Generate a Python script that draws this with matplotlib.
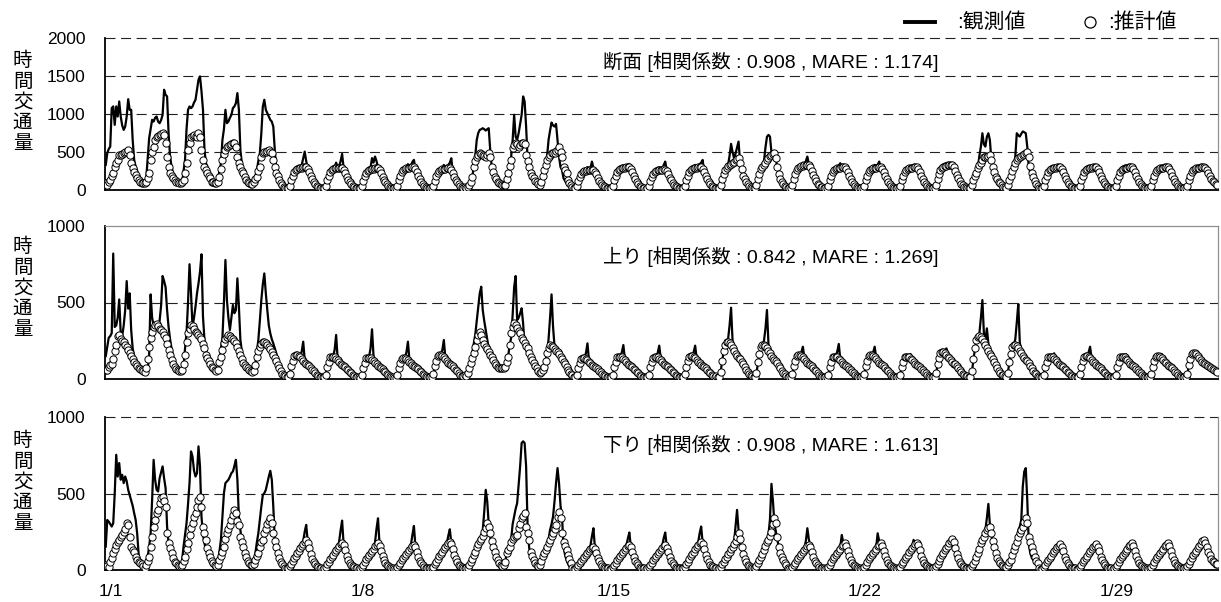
import numpy as np
import matplotlib.pyplot as plt
from matplotlib.lines import Line2D

plt.rcParams['font.family'] = ['Liberation Sans', 'Noto Sans CJK JP']

# hourly traffic, 1/1 - 1/31, one row of 24 hours per day
cross_obs = [
    [330, 484, 540, 571, 1077, 1100, 857, 1100, 967, 1165, 967, 850, 791, 835, 967, 1195, 1055, 1055, 659, 396, 308, 250, 180, 132],
    [100, 88, 85, 132, 400, 681, 800, 923, 901, 950, 967, 900, 879, 920, 989, 1319, 1253, 1231, 747, 440, 308, 220, 160, 110],
    [110, 95, 88, 88, 250, 396, 800, 1055, 1099, 1077, 1099, 1150, 1187, 1319, 1451, 1495, 1300, 1055, 527, 350, 308, 230, 176, 130],
    [100, 90, 88, 150, 250, 352, 659, 800, 1055, 879, 901, 950, 989, 1077, 1100, 1143, 1275, 1055, 527, 350, 264, 200, 154, 110],
    [90, 80, 85, 110, 180, 264, 380, 484, 747, 1099, 1187, 1055, 1011, 967, 923, 900, 835, 527, 264, 180, 132, 90, 60, 40],
    [30, 22, 21, 55, 125, 185, 240, 262, 280, 300, 310, 330, 420, 505, 380, 280, 225, 176, 137, 104, 75, 55, 40, 30],
    [26, 20, 21, 55, 123, 182, 236, 258, 276, 300, 360, 300, 310, 380, 475, 290, 220, 172, 135, 102, 74, 54, 39, 30],
    [26, 19, 20, 52, 118, 176, 228, 250, 265, 290, 420, 360, 440, 380, 300, 260, 215, 168, 131, 99, 72, 53, 38, 29],
    [26, 20, 21, 55, 125, 185, 240, 262, 280, 300, 340, 300, 320, 370, 396, 280, 225, 176, 137, 104, 75, 55, 40, 30],
    [26, 19, 20, 52, 118, 176, 228, 250, 265, 285, 330, 290, 300, 330, 360, 418, 220, 170, 131, 99, 72, 53, 38, 30],
    [38, 28, 33, 58, 105, 170, 300, 450, 659, 750, 791, 800, 813, 800, 782, 800, 813, 527, 308, 230, 176, 140, 110, 88],
    [72, 62, 60, 64, 135, 215, 315, 440, 659, 989, 700, 659, 747, 870, 989, 1231, 1165, 835, 396, 300, 220, 160, 110, 90],
    [95, 75, 65, 105, 175, 260, 330, 440, 659, 780, 888, 850, 835, 870, 659, 440, 300, 264, 154, 120, 88, 70, 55, 45],
    [40, 25, 19, 50, 112, 166, 214, 234, 248, 260, 300, 270, 290, 374, 290, 242, 205, 160, 125, 95, 69, 51, 37, 28],
    [26, 20, 21, 55, 125, 185, 240, 262, 280, 300, 320, 300, 310, 330, 343, 275, 225, 176, 137, 104, 75, 55, 40, 30],
    [25, 19, 20, 51, 116, 168, 217, 236, 250, 262, 300, 268, 280, 330, 374, 250, 208, 162, 126, 96, 70, 51, 37, 28],
    [26, 20, 21, 55, 125, 185, 240, 262, 280, 300, 330, 300, 310, 340, 360, 396, 230, 176, 137, 104, 75, 55, 40, 30],
    [28, 20, 22, 58, 135, 200, 260, 290, 330, 450, 607, 500, 420, 480, 560, 637, 380, 260, 185, 135, 98, 72, 52, 38],
    [28, 22, 24, 58, 135, 205, 265, 300, 380, 560, 700, 725, 703, 500, 470, 450, 400, 290, 200, 145, 100, 75, 53, 38],
    [28, 22, 23, 60, 140, 205, 265, 290, 310, 330, 360, 340, 380, 440, 340, 300, 250, 195, 150, 115, 83, 61, 44, 33],
    [26, 20, 21, 55, 125, 185, 240, 262, 280, 300, 320, 352, 310, 320, 300, 270, 225, 176, 137, 104, 75, 55, 40, 30],
    [26, 20, 21, 55, 125, 185, 240, 262, 280, 300, 330, 300, 330, 374, 310, 270, 225, 176, 137, 104, 75, 55, 40, 30],
    [26, 20, 21, 55, 125, 185, 240, 262, 280, 295, 305, 300, 316, 305, 300, 270, 225, 176, 137, 104, 75, 55, 40, 30],
    [28, 22, 23, 60, 140, 205, 265, 290, 305, 315, 320, 325, 328, 325, 328, 330, 250, 195, 150, 115, 83, 61, 44, 33],
    [28, 22, 24, 58, 125, 175, 215, 300, 450, 571, 747, 600, 571, 700, 747, 659, 400, 300, 230, 170, 135, 105, 85, 55],
    [43, 33, 30, 58, 125, 185, 245, 300, 440, 747, 720, 703, 740, 770, 760, 747, 571, 308, 230, 170, 120, 85, 55, 40],
    [28, 20, 21, 55, 125, 185, 240, 262, 280, 295, 308, 300, 300, 305, 300, 272, 231, 180, 140, 106, 77, 57, 41, 32],
    [28, 21, 22, 57, 129, 187, 241, 262, 278, 290, 305, 298, 300, 308, 299, 272, 231, 180, 140, 106, 77, 57, 41, 32],
    [28, 21, 22, 57, 129, 187, 241, 262, 278, 288, 300, 296, 299, 302, 299, 272, 231, 180, 140, 106, 77, 57, 41, 32],
    [28, 21, 22, 57, 129, 187, 241, 262, 278, 290, 300, 298, 304, 300, 296, 270, 230, 180, 140, 106, 77, 57, 41, 32],
    [28, 21, 22, 57, 129, 187, 241, 262, 278, 288, 300, 296, 310, 330, 315, 290, 250, 200, 160, 130, 110, 95, 80, 70],
]
cross_est = [
    [88, 66, 100, 132, 180, 220, 308, 360, 396, 462, 462, 470, 484, 495, 505, 527, 462, 352, 286, 242, 198, 154, 132, 110],
    [97, 90, 95, 110, 160, 220, 396, 500, 571, 659, 700, 710, 725, 740, 747, 725, 615, 440, 308, 220, 190, 160, 132, 110],
    [100, 90, 92, 110, 132, 220, 352, 527, 620, 703, 715, 725, 715, 703, 747, 703, 527, 396, 308, 260, 220, 180, 154, 110],
    [100, 90, 88, 110, 176, 280, 396, 470, 527, 571, 580, 593, 610, 615, 624, 571, 440, 360, 308, 250, 220, 170, 132, 100],
    [90, 80, 75, 100, 140, 176, 250, 308, 440, 484, 495, 505, 515, 527, 505, 484, 396, 308, 220, 180, 132, 90, 60, 40],
    [30, 21, 22, 57, 129, 187, 241, 262, 278, 288, 292, 296, 299, 300, 299, 272, 231, 180, 140, 106, 77, 57, 41, 32],
    [28, 21, 22, 56, 127, 184, 237, 258, 273, 283, 287, 291, 294, 295, 294, 268, 227, 177, 138, 104, 76, 56, 40, 31],
    [27, 20, 21, 54, 123, 178, 229, 249, 264, 274, 277, 281, 284, 285, 284, 258, 219, 171, 133, 101, 73, 54, 39, 30],
    [28, 21, 22, 57, 129, 187, 241, 262, 278, 288, 292, 296, 299, 300, 299, 272, 231, 180, 140, 106, 77, 57, 41, 32],
    [27, 20, 21, 54, 123, 178, 229, 249, 264, 274, 277, 281, 284, 285, 284, 258, 219, 171, 133, 101, 73, 54, 39, 30],
    [40, 30, 35, 60, 110, 176, 308, 380, 440, 465, 484, 475, 462, 450, 440, 460, 484, 440, 308, 240, 176, 140, 110, 90],
    [75, 65, 62, 66, 140, 220, 320, 396, 549, 590, 615, 600, 571, 593, 624, 615, 607, 462, 380, 308, 220, 190, 154, 120],
    [100, 80, 70, 110, 180, 264, 330, 396, 440, 462, 484, 488, 492, 510, 527, 571, 500, 440, 308, 260, 220, 130, 90, 60],
    [40, 25, 20, 50, 114, 165, 213, 231, 246, 254, 258, 262, 264, 265, 264, 240, 204, 159, 124, 94, 68, 50, 36, 28],
    [28, 21, 22, 57, 129, 187, 241, 262, 278, 288, 292, 296, 299, 300, 299, 272, 231, 180, 140, 106, 77, 57, 41, 32],
    [26, 19, 20, 51, 116, 168, 217, 236, 250, 259, 263, 266, 269, 270, 269, 245, 208, 162, 126, 95, 69, 51, 37, 29],
    [28, 21, 22, 57, 129, 187, 241, 262, 278, 288, 292, 296, 299, 300, 299, 272, 231, 180, 140, 106, 77, 57, 41, 32],
    [30, 22, 24, 60, 140, 205, 265, 290, 310, 330, 345, 360, 375, 390, 405, 418, 360, 270, 190, 140, 100, 75, 55, 40],
    [30, 24, 26, 60, 140, 210, 270, 300, 330, 360, 390, 420, 445, 460, 475, 490, 420, 300, 210, 150, 105, 78, 56, 40],
    [31, 23, 24, 63, 142, 206, 265, 288, 306, 317, 321, 326, 329, 330, 329, 299, 254, 198, 154, 117, 85, 63, 45, 35],
    [28, 21, 22, 57, 129, 187, 241, 262, 278, 288, 292, 296, 299, 300, 299, 272, 231, 180, 140, 106, 77, 57, 41, 32],
    [28, 21, 22, 57, 129, 187, 241, 262, 278, 288, 292, 296, 299, 300, 299, 272, 231, 180, 140, 106, 77, 57, 41, 32],
    [28, 21, 22, 57, 129, 187, 241, 262, 278, 288, 292, 296, 299, 300, 299, 272, 231, 180, 140, 106, 77, 57, 41, 32],
    [31, 23, 24, 63, 142, 206, 265, 288, 306, 317, 321, 326, 329, 330, 329, 299, 254, 198, 154, 117, 85, 63, 45, 35],
    [30, 24, 26, 60, 130, 180, 220, 290, 330, 352, 400, 440, 440, 440, 450, 460, 400, 308, 240, 176, 140, 110, 88, 60],
    [45, 35, 32, 60, 130, 190, 250, 300, 360, 400, 420, 440, 450, 460, 470, 490, 505, 440, 320, 230, 170, 120, 85, 55],
    [28, 21, 22, 57, 129, 187, 241, 262, 278, 288, 292, 296, 299, 300, 299, 272, 231, 180, 140, 106, 77, 57, 41, 32],
    [28, 21, 22, 57, 129, 187, 241, 262, 278, 288, 292, 296, 299, 300, 299, 272, 231, 180, 140, 106, 77, 57, 41, 32],
    [28, 21, 22, 57, 129, 187, 241, 262, 278, 288, 292, 296, 299, 300, 299, 272, 231, 180, 140, 106, 77, 57, 41, 32],
    [28, 21, 22, 57, 129, 187, 241, 262, 278, 288, 292, 296, 299, 300, 299, 272, 231, 180, 140, 106, 77, 57, 41, 32],
    [28, 21, 22, 57, 129, 187, 241, 262, 278, 288, 292, 296, 299, 300, 299, 285, 260, 220, 180, 150, 120, 100, 85, 72],
]
up_obs = [
    [150, 210, 270, 280, 300, 820, 340, 350, 400, 520, 300, 280, 350, 450, 640, 460, 560, 320, 200, 150, 110, 90, 70, 60],
    [55, 45, 40, 40, 60, 150, 553, 400, 350, 340, 340, 360, 380, 480, 673, 640, 600, 450, 340, 260, 200, 150, 100, 80],
    [65, 55, 50, 45, 80, 200, 300, 500, 750, 560, 342, 400, 473, 560, 625, 700, 815, 407, 255, 190, 150, 124, 100, 80],
    [70, 55, 48, 45, 100, 200, 270, 500, 778, 516, 400, 320, 400, 484, 430, 450, 658, 473, 255, 180, 130, 102, 85, 65],
    [60, 55, 50, 55, 100, 180, 255, 380, 516, 620, 690, 560, 450, 350, 298, 260, 233, 200, 168, 130, 100, 70, 45, 30],
    [20, 12, 10, 30, 78, 118, 150, 157, 157, 152, 145, 180, 244, 125, 100, 90, 82, 72, 60, 48, 37, 27, 19, 14],
    [12, 9, 9, 27, 73, 110, 140, 146, 150, 190, 288, 135, 112, 100, 90, 83, 76, 66, 56, 45, 34, 25, 18, 13],
    [12, 9, 9, 26, 70, 105, 133, 139, 145, 200, 325, 150, 108, 96, 86, 79, 72, 63, 53, 43, 33, 24, 17, 12],
    [11, 8, 8, 25, 68, 102, 130, 135, 140, 175, 244, 125, 104, 93, 84, 77, 70, 61, 52, 42, 32, 24, 17, 12],
    [12, 9, 9, 29, 78, 117, 148, 157, 160, 190, 255, 140, 120, 107, 97, 89, 82, 71, 60, 48, 37, 27, 19, 14],
    [25, 18, 20, 40, 100, 170, 230, 290, 380, 470, 560, 603, 451, 380, 320, 260, 200, 160, 140, 110, 95, 80, 70, 60],
    [65, 60, 65, 75, 110, 150, 220, 270, 420, 600, 673, 386, 400, 429, 462, 364, 211, 190, 165, 140, 115, 95, 80, 65],
    [65, 50, 38, 40, 60, 80, 120, 168, 260, 400, 553, 342, 211, 200, 179, 160, 146, 130, 113, 95, 81, 60, 48, 35],
    [25, 15, 9, 25, 68, 102, 130, 135, 140, 170, 233, 125, 104, 93, 84, 77, 70, 61, 52, 42, 32, 24, 17, 12],
    [10, 8, 8, 27, 73, 110, 140, 146, 150, 175, 222, 132, 112, 100, 90, 83, 76, 66, 56, 45, 34, 25, 18, 13],
    [10, 8, 8, 27, 73, 110, 140, 146, 150, 172, 218, 132, 112, 100, 90, 83, 76, 66, 56, 45, 34, 25, 18, 13],
    [10, 8, 8, 28, 75, 112, 142, 150, 155, 175, 218, 135, 115, 102, 92, 85, 78, 68, 57, 46, 35, 26, 18, 13],
    [18, 14, 14, 42, 115, 175, 220, 240, 260, 350, 466, 250, 190, 166, 150, 138, 128, 112, 94, 76, 58, 43, 31, 22],
    [20, 14, 14, 40, 105, 160, 205, 220, 250, 330, 451, 230, 175, 152, 137, 126, 116, 102, 85, 70, 54, 40, 28, 20],
    [14, 10, 9, 29, 78, 117, 148, 157, 160, 175, 211, 140, 120, 107, 97, 89, 82, 71, 60, 48, 37, 27, 19, 14],
    [10, 8, 8, 27, 73, 110, 140, 146, 150, 180, 229, 132, 112, 100, 90, 83, 76, 66, 56, 45, 34, 25, 18, 13],
    [10, 8, 9, 29, 78, 117, 148, 157, 160, 175, 211, 140, 120, 107, 97, 89, 82, 71, 60, 48, 37, 27, 19, 14],
    [10, 8, 8, 27, 73, 110, 140, 146, 150, 155, 163, 132, 112, 100, 90, 83, 76, 66, 56, 45, 34, 25, 18, 13],
    [10, 8, 9, 33, 89, 133, 168, 178, 180, 190, 200, 160, 137, 121, 109, 100, 93, 81, 68, 55, 42, 31, 22, 17],
    [18, 14, 15, 45, 125, 195, 250, 270, 300, 400, 516, 300, 255, 331, 233, 170, 148, 130, 110, 90, 70, 52, 38, 26],
    [20, 14, 14, 40, 105, 160, 205, 220, 260, 370, 490, 240, 180, 152, 137, 126, 116, 102, 85, 70, 54, 40, 28, 20],
    [12, 8, 8, 27, 73, 110, 140, 146, 150, 158, 168, 132, 112, 100, 90, 83, 76, 66, 56, 45, 34, 25, 18, 13],
    [10, 8, 8, 28, 75, 112, 142, 150, 155, 175, 211, 135, 115, 102, 92, 85, 78, 68, 57, 46, 35, 26, 18, 13],
    [10, 8, 8, 27, 73, 110, 140, 146, 152, 158, 163, 130, 112, 100, 90, 83, 76, 66, 56, 45, 34, 25, 18, 13],
    [10, 8, 8, 28, 75, 112, 142, 150, 155, 160, 163, 133, 115, 102, 92, 85, 78, 68, 57, 46, 35, 26, 18, 13],
    [10, 8, 9, 31, 84, 126, 159, 168, 170, 175, 178, 150, 129, 114, 103, 95, 87, 80, 75, 70, 62, 55, 50, 45],
]
up_est = [
    [60, 60, 80, 90, 100, 130, 180, 220, 280, 290, 260, 250, 240, 225, 210, 190, 170, 150, 130, 110, 95, 85, 75, 65],
    [60, 50, 45, 70, 130, 210, 270, 310, 340, 355, 360, 345, 330, 320, 310, 290, 270, 230, 190, 160, 125, 100, 80, 65],
    [60, 55, 50, 60, 100, 157, 240, 300, 330, 350, 345, 330, 310, 300, 288, 277, 260, 230, 200, 160, 140, 115, 100, 80],
    [70, 60, 55, 60, 110, 146, 190, 233, 260, 277, 288, 280, 270, 260, 250, 235, 211, 185, 157, 130, 102, 90, 78, 70],
    [60, 50, 45, 50, 90, 146, 180, 211, 230, 240, 244, 235, 220, 211, 195, 179, 160, 135, 115, 92, 70, 50, 35, 25],
    [20, 14, 11, 32, 84, 120, 152, 157, 157, 152, 142, 130, 118, 107, 96, 89, 84, 73, 62, 50, 39, 29, 21, 16],
    [14, 10, 10, 29, 78, 112, 141, 146, 146, 141, 131, 121, 110, 99, 90, 83, 78, 68, 57, 47, 36, 27, 19, 15],
    [14, 10, 9, 28, 74, 107, 134, 139, 139, 134, 125, 115, 105, 95, 85, 79, 74, 65, 55, 45, 34, 26, 19, 14],
    [13, 9, 9, 27, 72, 104, 131, 135, 135, 131, 122, 112, 102, 92, 83, 77, 72, 63, 53, 43, 33, 25, 18, 14],
    [14, 10, 10, 31, 84, 120, 152, 157, 157, 152, 141, 130, 118, 107, 96, 89, 84, 73, 62, 50, 39, 29, 21, 20],
    [25, 20, 37, 70, 102, 140, 168, 210, 255, 290, 309, 290, 255, 230, 211, 195, 179, 160, 146, 125, 102, 90, 81, 75],
    [70, 70, 72, 81, 110, 146, 220, 298, 342, 368, 350, 331, 315, 298, 270, 255, 233, 215, 200, 170, 146, 125, 102, 85],
    [70, 55, 40, 45, 62, 81, 120, 168, 200, 222, 218, 211, 195, 185, 179, 162, 146, 130, 113, 97, 81, 62, 48, 35],
    [25, 15, 10, 27, 72, 104, 131, 135, 135, 131, 122, 112, 102, 92, 83, 77, 72, 63, 53, 43, 33, 25, 18, 14],
    [14, 10, 10, 29, 78, 112, 141, 146, 146, 141, 131, 121, 110, 99, 90, 83, 78, 68, 57, 47, 36, 27, 19, 15],
    [14, 10, 10, 29, 77, 112, 140, 146, 146, 142, 132, 121, 110, 100, 90, 83, 77, 68, 57, 47, 36, 27, 19, 15],
    [14, 10, 10, 30, 80, 115, 145, 150, 150, 145, 135, 124, 113, 102, 92, 85, 80, 70, 59, 48, 37, 28, 20, 15],
    [20, 16, 16, 45, 120, 180, 225, 244, 244, 236, 220, 200, 184, 166, 150, 138, 130, 114, 96, 78, 60, 45, 33, 24],
    [22, 15, 15, 42, 110, 165, 210, 222, 222, 215, 200, 184, 168, 152, 137, 126, 118, 104, 87, 71, 55, 41, 30, 22],
    [15, 11, 11, 32, 84, 120, 152, 157, 157, 152, 142, 130, 118, 107, 96, 89, 84, 73, 62, 50, 39, 29, 21, 16],
    [14, 10, 10, 29, 78, 112, 141, 146, 146, 141, 131, 121, 110, 99, 90, 83, 78, 68, 57, 47, 36, 27, 19, 15],
    [15, 11, 11, 32, 84, 120, 152, 157, 157, 152, 142, 130, 118, 107, 96, 89, 84, 73, 62, 50, 39, 29, 21, 16],
    [14, 10, 10, 29, 77, 112, 141, 146, 146, 141, 131, 121, 110, 99, 90, 83, 78, 68, 57, 47, 36, 27, 19, 15],
    [15, 11, 12, 36, 95, 136, 172, 178, 178, 172, 160, 147, 134, 121, 109, 101, 95, 83, 70, 57, 44, 33, 24, 18],
    [20, 15, 16, 50, 130, 200, 255, 275, 281, 275, 262, 240, 220, 200, 180, 165, 150, 132, 112, 92, 72, 54, 40, 28],
    [25, 18, 15, 42, 110, 165, 210, 222, 222, 215, 200, 184, 168, 152, 137, 126, 118, 104, 87, 71, 55, 41, 30, 22],
    [14, 10, 10, 29, 78, 112, 141, 146, 146, 141, 131, 121, 110, 99, 90, 83, 78, 68, 57, 47, 36, 27, 19, 15],
    [14, 10, 10, 30, 80, 115, 145, 150, 150, 145, 135, 124, 113, 102, 92, 85, 80, 70, 59, 48, 37, 28, 20, 15],
    [14, 10, 10, 29, 78, 112, 141, 146, 146, 141, 131, 121, 110, 99, 90, 83, 78, 68, 57, 47, 36, 27, 19, 15],
    [14, 10, 10, 30, 80, 115, 145, 150, 150, 145, 135, 124, 113, 102, 92, 85, 80, 70, 59, 48, 37, 28, 20, 15],
    [15, 11, 11, 34, 90, 129, 162, 168, 168, 162, 151, 139, 127, 114, 103, 95, 90, 85, 81, 75, 66, 58, 52, 48],
]
down_obs = [
    [153, 327, 316, 300, 284, 306, 500, 753, 611, 699, 590, 622, 568, 611, 580, 524, 490, 458, 420, 371, 327, 240, 100, 44],
    [40, 30, 22, 40, 87, 150, 240, 458, 720, 590, 524, 513, 600, 640, 677, 600, 535, 284, 175, 120, 87, 65, 50, 40],
    [40, 30, 22, 60, 153, 230, 306, 430, 568, 775, 742, 650, 611, 633, 808, 677, 349, 230, 175, 130, 109, 70, 44, 35],
    [35, 22, 20, 50, 120, 200, 350, 502, 568, 579, 590, 610, 633, 644, 680, 720, 590, 349, 260, 175, 130, 87, 55, 33],
    [40, 33, 30, 60, 109, 180, 240, 330, 415, 491, 502, 524, 568, 610, 648, 590, 415, 197, 109, 75, 55, 44, 30, 22],
    [12, 9, 10, 22, 37, 56, 76, 92, 108, 123, 139, 157, 190, 250, 295, 185, 134, 98, 72, 50, 34, 24, 18, 14],
    [11, 8, 9, 20, 34, 51, 70, 84, 98, 113, 127, 143, 185, 260, 323, 170, 123, 90, 66, 46, 31, 22, 16, 12],
    [11, 8, 9, 20, 33, 50, 68, 82, 96, 110, 124, 140, 180, 270, 338, 168, 120, 88, 64, 45, 30, 21, 16, 12],
    [10, 8, 9, 19, 31, 47, 64, 77, 90, 103, 116, 131, 165, 230, 288, 155, 113, 82, 60, 42, 28, 20, 15, 12],
    [12, 9, 10, 21, 35, 53, 72, 87, 102, 117, 132, 149, 175, 225, 266, 175, 128, 94, 68, 48, 32, 22, 17, 13],
    [14, 10, 14, 28, 48, 68, 92, 118, 150, 175, 200, 215, 260, 380, 524, 450, 300, 220, 170, 140, 110, 80, 60, 40],
    [33, 25, 28, 50, 105, 130, 150, 200, 300, 349, 400, 437, 560, 677, 830, 841, 830, 677, 284, 150, 87, 60, 45, 33],
    [33, 24, 30, 55, 85, 105, 125, 150, 200, 262, 300, 349, 450, 568, 666, 568, 420, 349, 153, 100, 65, 40, 22, 18],
    [10, 7, 8, 17, 29, 44, 59, 71, 84, 96, 108, 122, 160, 220, 273, 145, 105, 77, 56, 39, 26, 18, 14, 11],
    [10, 8, 9, 19, 31, 47, 64, 77, 90, 103, 116, 131, 160, 205, 245, 152, 113, 82, 60, 42, 28, 20, 15, 12],
    [10, 8, 9, 19, 32, 46, 64, 78, 90, 102, 116, 130, 158, 210, 245, 150, 114, 83, 59, 42, 28, 20, 15, 12],
    [12, 9, 10, 21, 35, 53, 72, 87, 102, 117, 132, 149, 180, 240, 284, 178, 128, 94, 68, 48, 32, 22, 17, 13],
    [11, 8, 10, 20, 36, 52, 70, 86, 102, 118, 132, 150, 180, 290, 393, 260, 180, 140, 100, 70, 48, 33, 24, 17],
    [14, 10, 13, 26, 42, 62, 82, 102, 130, 175, 200, 230, 330, 563, 450, 300, 250, 197, 140, 105, 80, 60, 42, 28],
    [10, 8, 9, 19, 31, 47, 64, 78, 91, 104, 117, 140, 190, 273, 200, 150, 113, 82, 60, 42, 28, 20, 15, 12],
    [11, 8, 9, 20, 33, 50, 68, 82, 96, 110, 124, 150, 229, 180, 170, 155, 120, 88, 64, 45, 30, 21, 16, 12],
    [11, 8, 9, 20, 33, 50, 68, 82, 96, 110, 124, 150, 240, 190, 172, 155, 120, 88, 64, 45, 30, 21, 16, 12],
    [11, 8, 9, 20, 34, 51, 70, 84, 98, 113, 127, 150, 197, 172, 170, 155, 123, 90, 66, 46, 31, 22, 16, 12],
    [13, 9, 10, 23, 38, 58, 78, 94, 110, 126, 142, 160, 185, 207, 195, 175, 138, 100, 73, 52, 35, 24, 18, 14],
    [13, 9, 11, 24, 40, 60, 82, 108, 140, 175, 195, 220, 260, 340, 432, 300, 230, 180, 140, 100, 70, 55, 40, 28],
    [24, 17, 19, 33, 48, 62, 95, 128, 160, 200, 260, 284, 327, 546, 644, 666, 458, 175, 110, 80, 65, 50, 38, 30],
    [11, 8, 9, 19, 32, 48, 65, 79, 92, 106, 119, 134, 160, 175, 165, 148, 116, 84, 61, 43, 29, 21, 15, 12],
    [11, 8, 9, 19, 32, 48, 65, 79, 92, 106, 119, 134, 158, 179, 166, 150, 117, 85, 62, 44, 30, 21, 15, 12],
    [12, 9, 10, 21, 33, 50, 68, 82, 96, 110, 124, 140, 165, 186, 172, 155, 122, 88, 64, 45, 30, 21, 16, 12],
    [12, 9, 10, 21, 33, 50, 68, 82, 96, 110, 124, 140, 166, 186, 173, 156, 122, 88, 64, 45, 30, 21, 16, 12],
    [13, 10, 11, 24, 40, 59, 79, 95, 110, 126, 142, 160, 180, 201, 190, 175, 140, 110, 95, 70, 55, 45, 40, 37],
]
down_est = [
    [33, 25, 22, 50, 80, 110, 140, 165, 180, 197, 215, 229, 250, 270, 306, 295, 218, 153, 130, 120, 87, 65, 52, 44],
    [40, 25, 15, 33, 60, 87, 153, 218, 280, 327, 371, 393, 437, 469, 480, 450, 415, 240, 175, 142, 109, 76, 55, 44],
    [35, 25, 25, 33, 60, 87, 140, 175, 230, 273, 310, 345, 375, 410, 458, 480, 415, 284, 240, 197, 142, 110, 87, 60],
    [45, 30, 25, 35, 65, 90, 120, 150, 200, 240, 270, 295, 330, 360, 393, 371, 320, 295, 218, 180, 153, 110, 87, 60],
    [44, 35, 30, 40, 65, 90, 109, 153, 180, 197, 240, 270, 300, 320, 338, 306, 240, 190, 153, 109, 80, 55, 40, 25],
    [16, 12, 11, 24, 39, 58, 78, 94, 110, 125, 141, 157, 172, 186, 196, 177, 141, 102, 74, 53, 36, 26, 19, 16],
    [12, 9, 10, 21, 36, 53, 72, 86, 100, 115, 129, 143, 158, 170, 179, 162, 129, 93, 68, 48, 33, 24, 17, 14],
    [12, 9, 10, 21, 35, 52, 70, 84, 98, 112, 126, 140, 154, 166, 175, 158, 126, 91, 66, 47, 32, 23, 17, 14],
    [11, 8, 9, 20, 33, 49, 66, 79, 92, 105, 118, 131, 144, 156, 164, 148, 118, 85, 62, 44, 30, 22, 16, 13],
    [13, 10, 11, 22, 37, 55, 74, 89, 104, 119, 134, 149, 164, 177, 186, 168, 134, 97, 70, 50, 34, 24, 18, 15],
    [15, 12, 15, 30, 50, 70, 95, 120, 150, 170, 190, 205, 225, 251, 273, 306, 280, 240, 190, 153, 120, 87, 65, 44],
    [35, 25, 30, 50, 109, 130, 153, 180, 200, 218, 225, 229, 273, 300, 338, 355, 371, 284, 240, 197, 120, 90, 65, 45],
    [33, 25, 35, 60, 90, 109, 130, 153, 175, 197, 220, 240, 270, 295, 349, 382, 338, 240, 186, 160, 131, 100, 70, 44],
    [10, 8, 9, 18, 31, 45, 61, 73, 86, 98, 110, 122, 135, 145, 153, 138, 110, 80, 58, 41, 28, 20, 15, 12],
    [11, 8, 9, 20, 33, 49, 66, 79, 92, 105, 118, 131, 144, 156, 164, 148, 118, 85, 62, 44, 30, 22, 16, 13],
    [11, 8, 10, 20, 33, 48, 66, 80, 92, 104, 118, 130, 145, 155, 164, 147, 119, 86, 61, 44, 30, 21, 16, 13],
    [13, 10, 11, 22, 37, 55, 74, 89, 104, 119, 134, 149, 164, 177, 186, 168, 134, 97, 70, 50, 34, 24, 18, 15],
    [12, 9, 11, 22, 38, 55, 72, 88, 104, 120, 135, 150, 168, 190, 215, 240, 200, 150, 105, 72, 50, 35, 25, 18],
    [15, 12, 14, 28, 45, 65, 85, 105, 130, 160, 180, 197, 220, 251, 300, 338, 306, 218, 150, 109, 85, 65, 45, 30],
    [11, 9, 9, 20, 33, 49, 66, 80, 93, 106, 119, 132, 145, 157, 164, 150, 118, 85, 62, 44, 30, 22, 16, 13],
    [12, 9, 10, 21, 35, 52, 70, 84, 98, 112, 126, 140, 154, 166, 175, 158, 126, 91, 66, 47, 32, 23, 17, 14],
    [12, 9, 10, 21, 35, 52, 70, 84, 98, 112, 126, 140, 154, 166, 175, 158, 126, 91, 66, 47, 32, 23, 17, 14],
    [12, 9, 10, 21, 36, 53, 72, 86, 100, 115, 129, 143, 158, 170, 179, 162, 129, 93, 68, 48, 33, 24, 17, 14],
    [14, 10, 11, 24, 40, 60, 80, 96, 112, 128, 144, 160, 176, 190, 201, 181, 144, 104, 76, 54, 37, 26, 20, 16],
    [14, 10, 12, 25, 42, 62, 85, 110, 140, 175, 195, 218, 240, 262, 275, 284, 240, 190, 153, 110, 76, 60, 44, 30],
    [25, 18, 20, 35, 50, 65, 100, 131, 160, 186, 215, 240, 262, 284, 316, 338, 306, 218, 185, 153, 120, 87, 60, 44],
    [11, 9, 9, 20, 34, 50, 67, 81, 94, 108, 121, 134, 148, 160, 168, 151, 121, 87, 63, 45, 31, 22, 16, 13],
    [11, 9, 9, 20, 34, 50, 67, 81, 94, 108, 121, 134, 148, 160, 168, 151, 121, 87, 63, 45, 31, 22, 16, 13],
    [12, 9, 10, 21, 35, 52, 70, 84, 98, 112, 126, 140, 154, 166, 175, 158, 126, 91, 66, 47, 32, 23, 17, 14],
    [12, 9, 10, 21, 35, 52, 70, 84, 98, 112, 126, 140, 154, 166, 175, 158, 126, 91, 66, 47, 32, 23, 17, 14],
    [13, 10, 11, 24, 40, 59, 79, 95, 110, 126, 142, 157, 173, 187, 197, 178, 150, 120, 98, 75, 60, 50, 42, 37],
]

panel_notes = ["断面 [相関係数 : 0.908 , MARE : 1.174]",
               "上り [相関係数 : 0.842 , MARE : 1.269]",
               "下り [相関係数 : 0.908 , MARE : 1.613]"]
panel_ymax = [2000, 1000, 1000]
date_labels = ["1/1", "1/8", "1/15", "1/22", "1/29"]

W, H = 1221, 602
fig = plt.figure(figsize=(W / 100, H / 100), dpi=100)

# axes boxes in pixels: top, bottom
boxes = [(38, 190), (226, 379), (417, 570)]
series = [(cross_obs, cross_est), (up_obs, up_est), (down_obs, down_est)]
note_y = [62, 257, 445]
label_y = [102, 288, 482]
dash_top = [True, False, True]

for i in range(3):
    top, bot = boxes[i]
    ax = fig.add_axes([105 / W, 1 - bot / H, 1113 / W, (bot - top) / H])
    obs = np.array(series[i][0], dtype=float).ravel()
    est = np.array(series[i][1], dtype=float).ravel()
    x = np.arange(len(obs))

    ax.plot(x, obs, color='black', lw=1.6, zorder=3)
    ax.plot(x, est, ls='none', marker='o', ms=5.2, mfc='white', mec='black', mew=0.7, zorder=4)

    ymax = panel_ymax[i]
    ax.set_xlim(-0.5, len(obs) - 0.5)
    ax.set_ylim(0, ymax)
    ticks = list(range(0, ymax + 1, 500))
    ax.set_yticks(ticks)
    ax.set_yticklabels([str(t) for t in ticks], fontsize=12.5)
    for t in ticks[1:]:
        if t == ymax and not dash_top[i]:
            continue
        ax.axhline(t, color='#222222', lw=0.8, dashes=(9, 5), zorder=1, clip_on=False)

    for s in ['left', 'bottom']:
        ax.spines[s].set_color('black')
        ax.spines[s].set_linewidth(1.3)
    for s in ['top', 'right']:
        ax.spines[s].set_color('#909090')
        ax.spines[s].set_linewidth(0.9)
    if dash_top[i]:
        ax.spines['top'].set_visible(False)

    ax.tick_params(axis='both', length=0)
    ax.tick_params(axis='y', pad=14)
    if i == 2:
        ax.set_xticks([3.5 + 168 * k for k in range(len(date_labels))])
        ax.set_xticklabels(date_labels, fontsize=12.5)
        ax.tick_params(axis='x', pad=10)
    else:
        ax.set_xticks([])

    fig.text(771 / W, 1 - note_y[i] / H, panel_notes[i], ha='center', va='center', fontsize=14)

    for k, ch in enumerate("時間交通量"):
        fig.text(22.7 / W, 1 - (label_y[i] + (k - 2) * 20.6) / H, ch, ha='center', va='center',
                 fontsize=14, family=['Noto Sans CJK JP'])

# legend at top right
ly = 1 - 22 / H
fig.add_artist(Line2D([905 / W, 935 / W], [ly, ly], color='black', lw=2.8))
fig.text(957 / W, ly, ":観測値", ha='left', va='center', fontsize=15)
fig.add_artist(Line2D([1090 / W], [ly], marker='o', ms=8, mfc='white', mec='black', mew=0.9))
fig.text(1108 / W, ly, ":推計値", ha='left', va='center', fontsize=15)

fig.savefig('out.png', dpi=100)
